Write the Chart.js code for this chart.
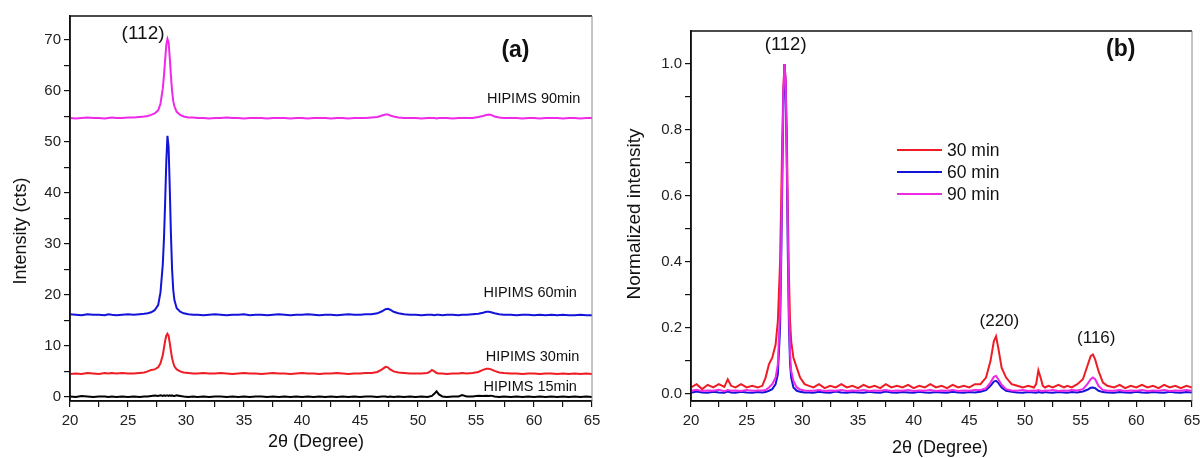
<!DOCTYPE html>
<html>
<head>
<meta charset="utf-8">
<script src="https://cdn.jsdelivr.net/npm/chart.js@4.4.0/dist/chart.umd.min.js"></script>
<style>
  body { margin: 0; background: #fff; }
  .wrap { display: flex; width: 1200px; height: 458px; }
  canvas { display: block; }
</style>
</head>
<body>
<div class="wrap">
  <canvas id="xrdA" width="600" height="458"></canvas>
  <canvas id="xrdB" width="600" height="458"></canvas>
</div>
<script>
// 2-theta sampling points (degree), shared by every pattern
const twoTheta = [
  20, 20.5, 21, 21.5, 22, 22.5, 23, 23.3, 23.6, 24, 24.5, 25, 25.5, 26, 26.4,
  26.7, 27.0, 27.3, 27.6, 27.8, 28.0, 28.1, 28.2, 28.3, 28.4, 28.5, 28.6, 28.7, 28.8, 28.9, 29.0, 29.2, 29.5, 29.8, 30.2, 30.6,
  31, 31.5, 32, 32.5, 33, 33.5, 34, 34.5, 35, 35.5, 36, 36.5, 37, 37.5, 38, 38.5, 39, 39.5, 40, 40.5, 41, 41.5, 42, 42.5, 43, 43.5, 44, 44.5, 45, 45.5,
  46.0, 46.5, 46.9, 47.2, 47.4, 47.6, 47.9, 48.3, 48.8, 49.3, 49.8, 50.3, 50.8, 51.0, 51.2, 51.4, 51.6, 51.8, 52.1, 52.5, 53.0, 53.5, 53.8, 54.2, 54.7, 55.2, 55.6, 55.9, 56.1, 56.3, 56.6, 57.0, 57.4,
  58, 58.5, 59, 59.5, 60, 60.5, 61, 61.5, 62, 62.5, 63, 63.5, 64, 64.5, 65
];

// (a) raw intensity, offset patterns (cts)
const hipims15 = [
  0.1, 0.0, 0.2, 0.1, 0.0, 0.1, 0.1, 0.0, 0.1, 0.0, 0.1, 0.0, 0.1, 0.0, 0.1,
  0.1, 0.2, 0.3, 0.2, 0.3, 0.2, 0.3, 0.2, 0.3, 0.3, 0.2, 0.3, 0.2, 0.3, 0.2, 0.2, 0.3, 0.2, 0.1, 0.0, 0.1,
  0.0, 0.1, 0.0, 0.1, 0.1, 0.0, 0.1, 0.0, 0.1, 0.0, 0.1, 0.1, 0.0, 0.1, 0.0, 0.1, 0.0, 0.1, 0.0, 0.1, 0.0, 0.1, 0.0, 0.1, 0.0, 0.1, 0.0, 0.1, 0.0, 0.1,
  0.1, 0.0, 0.1, 0.1, 0.0, 0.1, 0.0, 0.1, 0.0, 0.1, 0.0, 0.1, 0.0, 0.1, 0.2, 0.6, 1.1, 0.5, 0.1, 0.0, 0.1, 0.1, 0.35, 0.1, 0.1, 0.25, 0.2, 0.25, 0.2, 0.25, 0.1, 0.0, 0.1,
  0.0, 0.1, 0.0, 0.1, 0.0, 0.1, 0.0, 0.1, 0.0, 0.1, 0.0, 0.1, 0.0, 0.1, 0.0
];
const hipims30 = [
  4.5, 4.6, 4.5, 4.7, 4.6, 4.5, 4.7, 4.6, 4.7, 4.6, 4.7, 4.6, 4.6, 4.7, 4.8,
  5.0, 5.3, 5.4, 5.8, 6.6, 8.2, 9.6, 11.0, 12.0, 12.4, 12.0, 10.6, 9.0, 7.6, 6.7, 6.0, 5.4, 5.0, 4.8, 4.7, 4.6,
  4.6, 4.7, 4.6, 4.6, 4.7, 4.6, 4.5, 4.6, 4.7, 4.6, 4.6, 4.5, 4.6, 4.7, 4.6, 4.6, 4.5, 4.6, 4.7, 4.6, 4.6, 4.5, 4.6, 4.6, 4.7, 4.6, 4.5, 4.6, 4.6, 4.7,
  4.7, 4.9, 5.4, 5.9, 5.8, 5.4, 5.0, 4.8, 4.7, 4.6, 4.6, 4.6, 4.7, 4.9, 5.3, 5.0, 4.7, 4.6, 4.6, 4.5, 4.6, 4.6, 4.7, 4.6, 4.7, 4.9, 5.3, 5.5, 5.5, 5.4, 5.1, 4.8, 4.7,
  4.6, 4.6, 4.5, 4.6, 4.6, 4.5, 4.6, 4.6, 4.5, 4.6, 4.5, 4.6, 4.5, 4.6, 4.5
];
const hipims60 = [
  16.2, 16.1, 16.0, 16.2, 16.1, 16.1, 16.0, 16.2, 16.1, 16.0, 16.1, 16.2, 16.1, 16.2, 16.3,
  16.4, 16.6, 17.0, 18.0, 20.5, 26, 31, 38, 46, 51.2, 49, 41, 32, 25, 21, 19, 17.4, 16.7, 16.4, 16.2, 16.1,
  16.1, 16.0, 16.1, 16.2, 16.1, 16.0, 16.1, 16.1, 16.2, 16.0, 16.1, 16.1, 16.0, 16.1, 16.2, 16.1, 16.0, 16.1, 16.1, 16.2, 16.1, 16.0, 16.1, 16.1, 16.0, 16.1, 16.2, 16.1, 16.1, 16.2,
  16.2, 16.4, 16.8, 17.2, 17.3, 17.1, 16.7, 16.4, 16.2, 16.1, 16.1, 16.0, 16.1, 16.1, 16.1, 16.0, 16.1, 16.1, 16.0, 16.1, 16.1, 16.0, 16.1, 16.1, 16.2, 16.3, 16.5, 16.7, 16.7, 16.6, 16.4, 16.2, 16.1,
  16.1, 16.0, 16.1, 16.1, 16.0, 16.1, 16.0, 16.1, 16.0, 16.1, 16.0, 16.0, 16.1, 16.0, 16.0
];
const hipims90 = [
  54.7, 54.6, 54.7, 54.8, 54.7, 54.7, 54.6, 54.7, 54.8, 54.7, 54.7, 54.8, 54.8, 54.9, 55.0,
  55.1, 55.3, 55.6, 56.2, 57.5, 60.5, 63, 66, 69, 70.2, 69.5, 66.5, 63, 60, 58, 57, 55.9, 55.3, 55.0, 54.8, 54.8,
  54.7, 54.7, 54.6, 54.7, 54.7, 54.8, 54.7, 54.7, 54.6, 54.7, 54.7, 54.7, 54.6, 54.7, 54.7, 54.7, 54.6, 54.7, 54.7, 54.6, 54.7, 54.7, 54.7, 54.6, 54.7, 54.7, 54.6, 54.7, 54.7, 54.7,
  54.8, 54.9, 55.2, 55.4, 55.4, 55.2, 55.0, 54.8, 54.7, 54.7, 54.7, 54.6, 54.7, 54.7, 54.7, 54.7, 54.6, 54.7, 54.7, 54.7, 54.6, 54.7, 54.7, 54.7, 54.7, 54.9, 55.1, 55.3, 55.4, 55.3, 55.0, 54.8, 54.7,
  54.7, 54.7, 54.6, 54.7, 54.7, 54.6, 54.7, 54.7, 54.7, 54.6, 54.7, 54.7, 54.6, 54.7, 54.7
];

// (b) normalized intensity
const norm30 = [
  0.02, 0.03, 0.015, 0.028, 0.02, 0.03, 0.022, 0.045, 0.025, 0.02, 0.03, 0.02, 0.025, 0.02, 0.025,
  0.05, 0.09, 0.11, 0.15, 0.22, 0.4, 0.58, 0.78, 0.93, 1.0, 0.95, 0.8, 0.55, 0.35, 0.22, 0.16, 0.11, 0.08, 0.05, 0.03, 0.025,
  0.02, 0.03, 0.018, 0.025, 0.02, 0.03, 0.02, 0.025, 0.018, 0.028, 0.02, 0.025, 0.018, 0.03, 0.02, 0.025, 0.02, 0.028, 0.018, 0.025, 0.02, 0.03, 0.02, 0.025, 0.018, 0.028, 0.02, 0.025, 0.02, 0.03,
  0.03, 0.05, 0.1, 0.16, 0.175, 0.14, 0.08, 0.05, 0.03, 0.025, 0.02, 0.025, 0.02, 0.03, 0.072, 0.05, 0.025, 0.02, 0.025, 0.02, 0.028, 0.02, 0.025, 0.02, 0.03, 0.045, 0.085, 0.115, 0.12, 0.105, 0.07, 0.035, 0.025,
  0.02, 0.028, 0.018, 0.025, 0.02, 0.028, 0.02, 0.025, 0.018, 0.028, 0.02, 0.025, 0.018, 0.025, 0.02
];
const norm60 = [
  0.004, 0.008, 0.005, 0.004, 0.007, 0.005, 0.004, 0.008, 0.005, 0.004, 0.007, 0.005, 0.004, 0.006, 0.005,
  0.006, 0.01, 0.015, 0.03, 0.06, 0.2, 0.4, 0.65, 0.88, 1.0, 0.93, 0.7, 0.42, 0.2, 0.09, 0.05, 0.02, 0.01, 0.007, 0.005, 0.005,
  0.004, 0.007, 0.005, 0.004, 0.008, 0.005, 0.004, 0.006, 0.005, 0.004, 0.007, 0.005, 0.004, 0.008, 0.005, 0.004, 0.006, 0.005, 0.004, 0.007, 0.005, 0.004, 0.006, 0.005, 0.004, 0.007, 0.005, 0.004, 0.006, 0.005,
  0.007, 0.012, 0.025, 0.038, 0.04, 0.034, 0.02, 0.01, 0.007, 0.005, 0.004, 0.006, 0.005, 0.004, 0.006, 0.005, 0.004, 0.006, 0.005, 0.004, 0.006, 0.005, 0.004, 0.006, 0.005, 0.008, 0.013, 0.019, 0.02, 0.018, 0.01, 0.006, 0.005,
  0.004, 0.006, 0.005, 0.004, 0.007, 0.005, 0.004, 0.006, 0.005, 0.004, 0.007, 0.005, 0.004, 0.006, 0.005
];
const norm90 = [
  0.01, 0.013, 0.009, 0.011, 0.01, 0.013, 0.009, 0.012, 0.01, 0.011, 0.009, 0.012, 0.01, 0.011, 0.011,
  0.012, 0.02, 0.03, 0.05, 0.09, 0.25, 0.45, 0.7, 0.92, 1.0, 0.95, 0.74, 0.48, 0.25, 0.12, 0.07, 0.04, 0.02, 0.014, 0.011, 0.01,
  0.01, 0.012, 0.009, 0.011, 0.01, 0.012, 0.009, 0.011, 0.01, 0.012, 0.009, 0.011, 0.01, 0.012, 0.009, 0.011, 0.01, 0.012, 0.009, 0.011, 0.01, 0.012, 0.009, 0.011, 0.01, 0.012, 0.009, 0.011, 0.01, 0.012,
  0.012, 0.018, 0.035, 0.052, 0.055, 0.045, 0.028, 0.015, 0.011, 0.01, 0.012, 0.009, 0.011, 0.01, 0.012, 0.01, 0.009, 0.011, 0.01, 0.012, 0.009, 0.011, 0.01, 0.012, 0.011, 0.015, 0.03, 0.045, 0.05, 0.045, 0.025, 0.012, 0.01,
  0.01, 0.012, 0.009, 0.011, 0.01, 0.012, 0.009, 0.011, 0.01, 0.012, 0.009, 0.011, 0.01, 0.012, 0.01
];

// axis ticks
const xTicks = [20, 22.5, 25, 27.5, 30, 32.5, 35, 37.5, 40, 42.5, 45, 47.5, 50, 52.5, 55, 57.5, 60, 62.5, 65];
const yTicksA = [0, 5, 10, 15, 20, 25, 30, 35, 40, 45, 50, 55, 60, 65, 70];
const yTicksB = [0, 0.1, 0.2, 0.3, 0.4, 0.5, 0.6, 0.7, 0.8, 0.9, 1.0];

const FONT = "'Liberation Sans', Arial, sans-serif";
Chart.defaults.font.family = FONT;
Chart.defaults.color = "#222";

const pts = ys => twoTheta.map((x, i) => ({ x: x, y: ys[i] }));

function line(label, ys, color, order) {
  return {
    label: label,
    data: pts(ys),
    borderColor: color,
    backgroundColor: color,
    borderWidth: 2,
    pointRadius: 0,
    tension: 0,
    order: order
  };
}

// box round the plot area: black left/top/bottom, grey right
const frame = {
  id: "frame",
  afterDatasetsDraw(chart) {
    const { ctx, chartArea: a } = chart;
    ctx.save();
    ctx.lineWidth = 1.5;
    ctx.strokeStyle = "#111";
    ctx.beginPath();
    ctx.moveTo(a.right, a.top);
    ctx.lineTo(a.left, a.top);
    ctx.lineTo(a.left, a.bottom);
    ctx.lineTo(a.right, a.bottom);
    ctx.stroke();
    ctx.strokeStyle = "#888";
    ctx.lineWidth = 1;
    ctx.beginPath();
    ctx.moveTo(a.right, a.top);
    ctx.lineTo(a.right, a.bottom);
    ctx.stroke();
    ctx.restore();
  }
};

// text notes placed in data coordinates, axis titles, inner legend
const notes = {
  id: "notes",
  afterDatasetsDraw(chart, args, opts) {
    const { ctx, scales } = chart;
    ctx.save();
    ctx.textBaseline = "middle";
    ctx.fillStyle = "#111";
    (opts.items || []).forEach(n => {
      ctx.font = n.font;
      ctx.textAlign = n.align || "center";
      ctx.fillText(n.text, scales.x.getPixelForValue(n.x), scales.y.getPixelForValue(n.y));
    });
    if (opts.titles) {
      const t = opts.titles;
      ctx.textAlign = "center";
      ctx.font = t.size + "px " + FONT;
      ctx.fillText("2\u03b8 (Degree)", t.xPos[0], t.xPos[1]);
      ctx.save();
      ctx.translate(t.yPos[0], t.yPos[1]);
      ctx.rotate(-Math.PI / 2);
      ctx.font = t.ySize + "px " + FONT;
      ctx.fillText(t.yText, 0, 0);
      ctx.restore();
    }
    if (opts.legend) {
      const L = opts.legend;
      ctx.font = "17.5px " + FONT;
      ctx.textAlign = "left";
      chart.data.datasets.forEach((ds, i) => {
        const y = L.y + i * L.gap;
        ctx.strokeStyle = ds.borderColor;
        ctx.lineWidth = 2;
        ctx.beginPath();
        ctx.moveTo(L.x, y);
        ctx.lineTo(L.x + 45, y);
        ctx.stroke();
        ctx.fillStyle = "#111";
        ctx.fillText(ds.label, L.x + 50, y + 1);
      });
    }
    ctx.restore();
  }
};

function axes(yMin, yMax, yTicks, yLabel, yWidth) {
  return {
    x: {
      type: "linear",
      min: 20,
      max: 65,
      afterBuildTicks: s => { s.ticks = xTicks.map(v => ({ value: v })); },
      afterFit: s => { s.height = 57; s.paddingLeft = 0; s.paddingRight = 0; },
      grid: { drawOnChartArea: false, drawTicks: true, tickLength: 6, color: "#111", lineWidth: 1.2 },
      border: { display: true, color: "#111", width: 1.5 },
      ticks: {
        padding: 5,
        maxRotation: 0,
        autoSkip: false,
        font: { size: 15 },
        callback: v => (v % 5 === 0 ? v : "")
      }
    },
    y: {
      min: yMin,
      max: yMax,
      afterBuildTicks: s => { s.ticks = yTicks.map(v => ({ value: v })); },
      afterFit: s => { s.width = yWidth; s.paddingTop = 0; s.paddingBottom = 0; },
      grid: { drawOnChartArea: false, drawTicks: true, tickLength: 6, color: "#111", lineWidth: 1.2 },
      border: { display: true, color: "#111", width: 1.5 },
      ticks: { padding: 3, autoSkip: false, font: { size: 15 }, callback: yLabel }
    }
  };
}

// Panel (a)
new Chart(document.getElementById("xrdA"), {
  type: "line",
  data: {
    datasets: [
      line("HIPIMS 15min", hipims15, "#000000", 4),
      line("HIPIMS 30min", hipims30, "#ee1c24", 3),
      line("HIPIMS 60min", hipims60, "#1414d8", 2),
      line("HIPIMS 90min", hipims90, "#ee2ae8", 1)
    ]
  },
  options: {
    responsive: false,
    animation: false,
    layout: { padding: { top: 16, right: 8, left: 0, bottom: 0 } },
    scales: axes(-0.8, 74.7, yTicksA, v => (v % 10 === 0 ? v : ""), 70),
    plugins: {
      legend: { display: false },
      tooltip: { enabled: false },
      notes: {
        items: [
          { text: "(112)", x: 26.3, y: 71.2, font: "19px " + FONT },
          { text: "(a)", x: 58.4, y: 68.0, font: "bold 23px " + FONT },
          { text: "HIPIMS 90min", x: 64.0, y: 58.4, font: "14.5px " + FONT, align: "right" },
          { text: "HIPIMS 60min", x: 63.7, y: 20.4, font: "14.5px " + FONT, align: "right" },
          { text: "HIPIMS 30min", x: 63.9, y: 7.8, font: "14.5px " + FONT, align: "right" },
          { text: "HIPIMS 15min", x: 63.7, y: 1.9, font: "14.5px " + FONT, align: "right" }
        ],
        titles: { size: 18, xPos: [316, 442], ySize: 18, yText: "Intensity (cts)", yPos: [21, 231] }
      }
    }
  },
  plugins: [frame, notes]
});

// Panel (b)
new Chart(document.getElementById("xrdB"), {
  type: "line",
  data: {
    datasets: [
      line("30 min", norm30, "#ee1c24", 3),
      line("60 min", norm60, "#1414d8", 2),
      line("90 min", norm90, "#ee2ae8", 1)
    ]
  },
  options: {
    responsive: false,
    animation: false,
    layout: { padding: { top: 31, right: 8, left: 0, bottom: 0 } },
    scales: axes(-0.021, 1.1, yTicksB, v => (Math.round(v * 10) % 2 === 0 ? v.toFixed(1) : ""), 91),
    plugins: {
      legend: { display: false },
      tooltip: { enabled: false },
      notes: {
        items: [
          { text: "(112)", x: 28.5, y: 1.058, font: "18.5px " + FONT },
          { text: "(b)", x: 58.6, y: 1.042, font: "bold 23px " + FONT },
          { text: "(220)", x: 47.7, y: 0.219, font: "17px " + FONT },
          { text: "(116)", x: 56.4, y: 0.168, font: "17px " + FONT }
        ],
        titles: { size: 18, xPos: [340, 448], ySize: 19, yText: "Normalized intensity", yPos: [35, 214] },
        legend: { x: 297, y: 150, gap: 22 }
      }
    }
  },
  plugins: [frame, notes]
});
</script>
</body>
</html>
